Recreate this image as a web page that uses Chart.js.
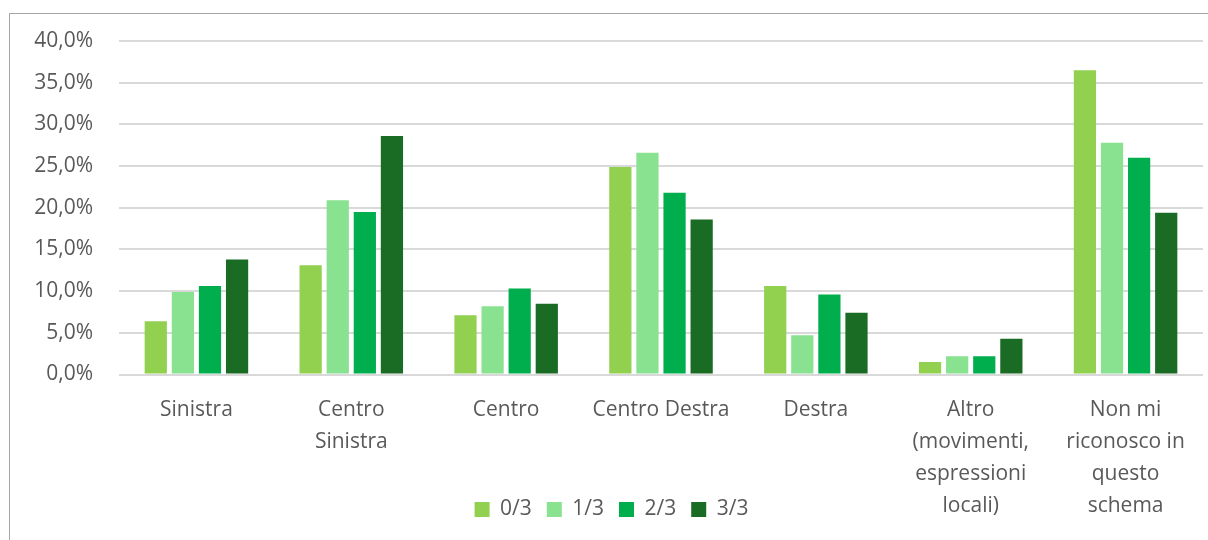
<!DOCTYPE html>
<html>
<head>
<meta charset="utf-8">
<script src="https://cdn.jsdelivr.net/npm/chart.js@4/dist/chart.umd.min.js"></script>
<style>
  body { margin: 0; background: #fff; }
  #cornice { position: absolute; left: 9px; top: 13px; width: 1199px; height: 527px;
             border-left: 1px solid #a6a6a6; border-top: 1px solid #a6a6a6; box-sizing: border-box; }
  #box { position: absolute; left: 0; top: 0; width: 1208px; height: 540px; }
</style>
</head>
<body>
<div id="cornice"></div>
<div id="box"><canvas id="GraficoOrientamento"></canvas></div>
<script>
// categorie e valori (percentuali)
var categorie = [
    ['Sinistra'],
    ['Centro', 'Sinistra'],
    ['Centro'],
    ['Centro Destra'],
    ['Destra'],
    ['Altro', '(movimenti,', 'espressioni', 'locali)'],
    ['Non mi', 'riconosco in', 'questo', 'schema']
];
var serieNomi = ['0/3', '1/3', '2/3', '3/3'];
var valori03 = [6.4, 13.1, 7.1, 24.9, 10.6, 1.5, 36.5];
var valori13 = [9.9, 20.9, 8.2, 26.6, 4.7, 2.2, 27.8];
var valori23 = [10.6, 19.5, 10.3, 21.8, 9.6, 2.2, 26.0];
var valori33 = [13.8, 28.6, 8.5, 18.6, 7.4, 4.3, 19.4];
var tickY = [0, 5, 10, 15, 20, 25, 30, 35, 40];

var cori = ['#92d050', '#88e28f', '#00ae4d', '#1a6b24'];
var testo = '#595959';
var font = { family: 'Open Sans', size: 21 };

function Serie(i, dati) {
    return {
        label: serieNomi[i],
        data: dati,
        backgroundColor: cori[i],
        borderWidth: 0,
        barPercentage: 0.82,
        categoryPercentage: 0.7
    };
}

// la legenda sta in basso, accanto alle ultime righe delle etichette
var spostaLegenda = {
    id: 'spostaLegenda',
    afterLayout: function (chart) {
        var l = chart.legend;
        l.top = 484;
        l.bottom = 540;
        l.height = 56;
        l.left = 20;
    }
};

Chart.defaults.font.family = font.family;
Chart.defaults.color = testo;

new Chart(document.getElementById('GraficoOrientamento'), {
    type: 'bar',
    data: {
        labels: categorie,
        datasets: [
            Serie(0, valori03),
            Serie(1, valori13),
            Serie(2, valori23),
            Serie(3, valori33)
        ]
    },
    plugins: [spostaLegenda],
    options: {
        responsive: true,
        maintainAspectRatio: false,
        animation: false,
        layout: { padding: { top: 41, right: 5, bottom: 0, left: 0 } },
        plugins: {
            tooltip: { enabled: false },
            legend: {
                position: 'bottom',
                maxHeight: 1,
                labels: {
                    font: { family: font.family, size: font.size },
                    color: testo,
                    boxWidth: 15,
                    boxHeight: 15,
                    padding: 15
                }
            }
        },
        scales: {
            x: {
                grid: { display: false },
                border: { display: false },
                ticks: {
                    color: testo,
                    font: { family: font.family, size: font.size, lineHeight: 1.52 },
                    padding: 12,
                    maxRotation: 0,
                    autoSkip: false
                },
                afterFit: function (scale) { scale.height = 164.5; }
            },
            y: {
                min: 0,
                max: 40,
                afterBuildTicks: function (scale) {
                    scale.ticks = tickY.map(function (v) { return { value: v }; });
                },
                grid: { color: '#d9d9d9', lineWidth: 2, drawTicks: false },
                border: { display: false },
                ticks: {
                    color: testo,
                    font: { family: font.family, size: font.size },
                    padding: 26,
                    callback: function (v) { return v.toFixed(1).replace('.', ',') + '%'; }
                },
                afterFit: function (scale) { scale.width = 119; }
            }
        }
    }
});
</script>
</body>
</html>
